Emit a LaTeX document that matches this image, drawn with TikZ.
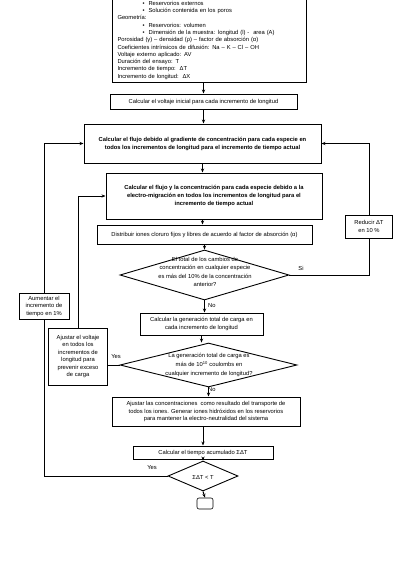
\documentclass[tikz,border=0pt]{standalone}
\usepackage{fontspec}
\setmainfont{Liberation Sans}
\usetikzlibrary{shapes.geometric, arrows.meta, positioning}

\begin{document}
\begin{tikzpicture}[x=1pt, y=-1pt,
    caja/.style={rectangle, draw=black, line width=1pt, inner sep=1pt,
        align=center, font=\fontsize{5.8}{7.5}\selectfont},
    decision/.style={diamond, draw=black, line width=0.9pt, inner sep=0pt},
    dtexto/.style={align=center, inner sep=0pt, font=\fontsize{5.8}{8.3}\selectfont},
    etiq/.style={inner sep=1pt, font=\fontsize{5.8}{7}\selectfont},
    linea/.style={line width=1pt},
    flecha/.style={linea, -{Stealth[length=4pt, width=3.2pt]}}
]
\useasboundingbox (0,0) rectangle (407,562);
\clip (0,0) rectangle (407,562);

% Input data
\node[caja, anchor=south, text width=183pt, align=left, inner xsep=5.5pt, inner ysep=3pt,
    font=\fontsize{5.8}{7.3}\selectfont] (datos) at (209,83) {%
    \hspace*{25pt}\textbullet\hspace{4pt}Reservorios externos\\
    \hspace*{25pt}\textbullet\hspace{4pt}Solución contenida en los poros\\
    Geometría:\\
    \hspace*{25pt}\textbullet\hspace{4pt}Reservorios: volumen\\
    \hspace*{25pt}\textbullet\hspace{4pt}Dimensión de la muestra: longitud (l) -\ \ area (A)\\
    Porosidad (γ) – densidad (ρ) – factor de absorción (α)\\
    Coeficientes intrínsicos de difusión: Na – K – Cl – OH\\
    Voltaje externo aplicado: AV\\
    Duración del ensayo: T\\
    Incremento de tiempo:\ \ ΔT\\
    Incremento de longitud:\ \ ΔX};

% Main column
\node[caja, minimum width=187pt, minimum height=15pt] (voltaje) at (203.5,101.5)
    {Calcular el voltaje inicial para cada incremento de longitud};
\node[caja, minimum width=237pt, minimum height=39pt, font=\fontsize{5.8}{8}\bfseries] (flujo) at (202.5,143.5)
    {Calcular el flujo debido al gradiente de concentración para cada especie en\\
     todos los incrementos de longitud para el incremento de tiempo actual};
\node[caja, minimum width=216pt, minimum height=46pt, font=\fontsize{5.8}{8}\bfseries] (electro) at (214,196)
    {Calcular el flujo y la concentración para cada especie debido a la\\
     electro-migración en todos los incrementos de longitud para el\\
     incremento de tiempo actual};
\node[caja, minimum width=215pt, minimum height=19pt] (distribuir) at (204.5,234.5)
    {Distribuir iones cloruro fijos y libres de acuerdo al factor de absorción (α)};

\node[decision, minimum width=169pt, minimum height=50pt] (dec1) at (204.5,275) {};
\node[dtexto] (dec1t) at (205,272)
    {El total de los cambios de\\ concentración en cualquier especie\\
     es más del 10\% de la concentración\\ anterior?};

\node[caja, minimum width=123pt, minimum height=22pt] (carga) at (201.5,324)
    {Calcular la generación total de carga en\\ cada incremento de longitud};

\node[decision, minimum width=177pt, minimum height=44pt] (dec2) at (208.5,365) {};
\node[dtexto, font=\fontsize{5.8}{9}\selectfont] (dec2t) at (209,365)
    {La generación total de carga es\\ más de 10\textsuperscript{10} coulombs en\\
     cualquier incremento de longitud?};

\node[caja, minimum width=188pt, minimum height=29pt] (concentr) at (206,411.5)
    {Ajustar las concentraciones\ \ como resultado del transporte de\\
     todos los iones. Generar iones hidróxidos en los reservorios\\
     para mantener la electro-neutralidad del sistema};
\node[caja, minimum width=140pt, minimum height=13pt] (tiempo) at (203,452.5)
    {Calcular el tiempo acumulado ΣΔT};

\node[decision, minimum width=70pt, minimum height=30pt] (dec3) at (203,476) {};
\node[dtexto] (dec3t) at (203,477) {ΣΔT < T};

\node[rectangle, draw=black, line width=0.6pt, rounded corners=2pt,
    minimum width=16pt, minimum height=11pt] (fin) at (205,503.5) {};

% Side boxes
\node[caja, minimum width=47pt, minimum height=23pt] (reducir) at (369,226.5)
    {Reducir ΔT\\ en 10 \%};
\node[caja, minimum width=59pt, minimum height=57pt] (voltadj) at (78,356.5)
    {Ajustar el voltaje\\ en todos los\\ incrementos de\\ longitud para\\ prevenir exceso\\ de carga};
\node[caja, minimum width=50pt, minimum height=26pt] (aumentar) at (44,306)
    {Aumentar el\\ incremento de\\ tiempo en 1\%};

% Down arrows
\draw[flecha] (datos.south -| voltaje.north) -- (voltaje.north);
\draw[flecha] (voltaje.south) -- (voltaje.south |- flujo.north);
\draw[flecha] (flujo.south) -- (flujo.south |- electro.north);
\draw[flecha] (electro.south -| flujo.south) -- (flujo.south |- distribuir.north);
\draw[flecha] (distribuir.south) -- (dec1.north);
\draw[flecha] (dec1.south) -- (dec1.south |- carga.north);
\draw[flecha] (carga.south) -- (carga.south |- dec2.north);
\draw[flecha] (dec2.south) -- (dec2.south |- concentr.north);
\draw[flecha] (concentr.south -| tiempo.north) -- (tiempo.north);
\draw[flecha] (tiempo.south) -- (dec3.north);
\draw[flecha] (dec3.south) -- (fin.north);

% Loops
\draw[linea] (dec1.east) -| (reducir.south);
\draw[flecha] (reducir.north) |- (flujo.east);
\draw[linea] (dec2.west) -- (dec2.west -| voltadj.east);
\draw[flecha] (voltadj.north) |- (electro.west);
\draw[linea] (dec3.west) -| (aumentar.south);
\draw[flecha] (aumentar.north) |- (flujo.west);

% Labels
\node[etiq] (si) at (301,268) {Si};
\node[etiq, anchor=west] (no1) at (207,306) {No};
\node[etiq] (yes1) at (116,357) {Yes};
\node[etiq, anchor=west] (no2) at (207,390) {No};
\node[etiq] (yes2) at (152,468) {Yes};

\end{tikzpicture}
\end{document}
